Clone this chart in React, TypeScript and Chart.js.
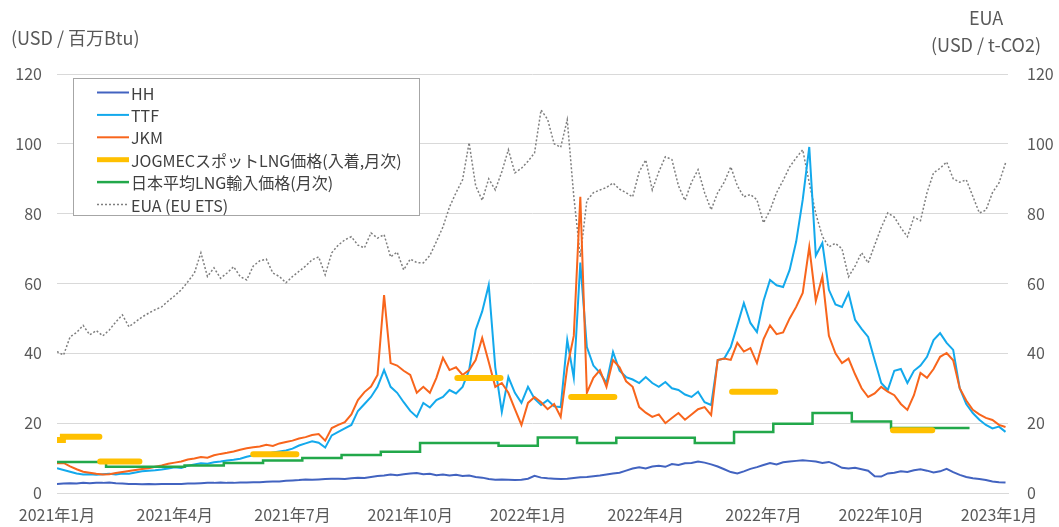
import React, { useEffect, useRef } from 'react';
import { Chart, registerables } from 'chart.js';

Chart.register(...registerables);

// x position of daily-ish samples: months since 2021-01 (1/6 month step)
const STEP = 1 / 6;

const hhValues = [
  2.6, 2.7, 2.8, 2.7, 2.9, 2.8, 2.9,
  2.9, 3.0, 2.8, 2.7, 2.6, 2.6, 2.5, 2.6, 2.5, 2.6, 2.6, 2.6,
  2.6, 2.7, 2.7, 2.8, 2.9, 2.9, 3.0, 2.9, 2.9, 3.0, 3.0, 3.1,
  3.1, 3.2, 3.3, 3.3, 3.5, 3.6, 3.7, 3.9, 3.8, 3.9, 4.0, 4.1,
  4.1, 4.0, 4.2, 4.4, 4.3, 4.6, 4.9, 5.0, 5.3, 5.1, 5.4, 5.6,
  5.7, 5.4, 5.5, 5.1, 5.3, 5.0, 5.2, 4.9, 5.0, 4.6, 4.4, 4.0,
  3.8, 3.9, 3.8, 3.7, 3.8, 4.1, 4.9, 4.4, 4.2, 4.1, 4.0, 4.1,
  4.3, 4.5, 4.6, 4.8, 5.0, 5.3, 5.6, 5.8, 6.4, 7.0, 7.4, 7.0,
  7.6, 7.8, 7.5, 8.3, 8.0, 8.5, 8.6, 9.0, 8.7, 8.2, 7.6, 6.8,
  6.0, 5.6, 6.2, 6.9, 7.4, 8.0, 8.6, 8.2, 8.8, 9.0, 9.2, 9.4,
  9.2, 9.0, 8.6, 8.9, 8.2, 7.2, 7.0, 7.2, 6.8, 6.4, 4.8, 4.7,
  5.6, 5.8, 6.2, 6.0, 6.5, 6.8, 6.4, 5.9, 6.2, 6.9, 6.0, 5.2,
  4.6, 4.2, 4.0, 3.7, 3.3, 3.1, 3.0,
];

const ttfValues = [
  7.1, 6.6, 6.1, 5.6, 5.3, 5.4, 5.2,
  5.4, 5.5, 5.3, 5.6, 5.5, 5.9, 6.2, 6.4, 6.5, 6.7, 7.0, 7.4,
  7.2, 7.8, 8.2, 8.5, 8.4, 8.8, 9.0, 9.3, 9.5, 9.8, 10.4, 10.8,
  11.4, 11.2, 11.6, 11.9, 12.2, 12.7, 13.6, 14.2, 14.8, 14.4, 13.0, 16.5,
  17.5, 18.5, 19.5, 23.5, 25.5, 27.5, 30.4, 35.2, 30.4, 28.7, 26.0, 23.5,
  21.8, 25.8, 24.5, 26.6, 27.5, 29.5, 28.5, 30.4, 35.2, 46.7, 52.0, 59.6,
  36.0, 23.2, 33.2, 28.7, 25.8, 30.4, 27.0, 25.2, 26.6, 24.8, 24.6, 43.8,
  33.0, 66.0, 41.8, 36.5, 34.4, 31.5, 40.4, 35.0, 33.2, 32.5, 31.5, 33.2,
  31.5, 30.4, 31.8, 30.0, 29.5, 28.2, 27.5, 29.0, 26.0, 25.2, 38.1, 38.5,
  41.8, 48.0, 54.4, 48.7, 46.1, 55.0, 61.0, 59.5, 59.0, 63.9, 72.0, 84.0,
  99.1, 68.0, 71.6, 58.2, 54.0, 53.3, 57.3, 49.6, 47.0, 44.7, 38.0, 31.5,
  29.5, 35.0, 35.5, 31.5, 35.0, 36.5, 39.0, 43.8, 45.8, 43.0, 41.0, 30.0,
  25.5, 22.9, 21.0, 19.5, 18.5, 19.0, 17.5,
];

const jkmValues = [
  8.5, 8.6, 7.6, 6.8, 6.1, 5.8, 5.5,
  5.3, 5.4, 5.7, 6.0, 6.3, 6.6, 6.9, 7.1, 7.5, 7.9, 8.4, 8.7,
  9.0, 9.6, 9.9, 10.3, 10.1, 10.8, 11.2, 11.5, 11.9, 12.4, 12.8, 13.1,
  13.3, 13.8, 13.5, 14.2, 14.6, 15.0, 15.6, 16.0, 16.6, 16.9, 15.0, 18.6,
  19.5, 20.3, 22.5, 26.6, 28.9, 30.5, 33.8, 56.7, 37.2, 36.5, 35.0, 33.8,
  28.7, 30.4, 28.7, 33.0, 38.7, 35.2, 36.0, 33.8, 35.2, 38.1, 44.4, 37.5,
  30.4, 31.5, 28.7, 24.0, 19.5, 25.8, 27.5, 26.0, 24.0, 25.5, 21.8, 36.0,
  45.0, 84.8, 28.7, 33.0, 35.2, 30.4, 38.1, 36.0, 32.0, 30.4, 24.6, 23.0,
  21.8, 22.5, 20.0, 21.5, 22.9, 21.0, 22.5, 24.0, 24.6, 22.3, 38.1, 38.5,
  38.1, 43.0, 40.5, 41.5, 37.2, 44.0, 48.0, 45.5, 46.0, 50.0, 53.3, 57.3,
  70.5, 55.0, 62.0, 45.0, 40.0, 37.2, 38.5, 34.0, 30.0, 27.5, 28.5, 30.4,
  29.0, 28.0, 25.5, 23.8, 28.0, 34.4, 33.0, 35.5, 39.0, 40.1, 38.0, 30.0,
  26.5, 23.8, 22.5, 21.5, 20.9, 19.5, 18.9,
];

const euaValues = [
  40.5, 39.5, 44.7, 46.0, 48.0, 45.3, 46.5,
  45.0, 46.7, 49.0, 51.0, 47.6, 49.0, 50.4, 51.5, 52.5, 53.3, 55.0, 56.5,
  58.2, 60.5, 63.0, 68.8, 62.0, 64.5, 61.5, 63.0, 64.8, 62.0, 61.0, 65.0,
  66.5, 67.0, 63.0, 62.0, 60.2, 62.0, 63.5, 65.0, 66.8, 67.6, 62.5, 68.8,
  71.0, 72.5, 73.4, 71.0, 70.2, 74.5, 73.0, 74.0, 67.6, 69.0, 63.9, 67.0,
  66.0, 65.9, 68.0, 72.0, 76.2, 81.9, 86.0, 89.7, 100.3, 88.0, 83.8, 90.0,
  86.8, 92.0, 98.3, 91.7, 93.0, 95.0, 97.4, 109.7, 107.0, 100.0, 99.0, 106.9,
  85.0, 67.6, 83.8, 86.0, 86.8, 87.5, 88.8, 87.0, 86.0, 84.8, 92.0, 95.4,
  86.8, 92.0, 96.3, 95.5, 88.0, 83.8, 89.0, 92.6, 86.0, 81.1, 86.0, 89.0,
  93.4, 88.0, 84.8, 85.5, 84.0, 77.4, 81.0, 86.0, 89.5, 93.4, 96.0, 98.3,
  88.8, 80.0, 73.5, 70.5, 71.5, 70.0, 61.9, 65.0, 68.8, 65.9, 71.0, 76.0,
  80.2, 79.0, 76.0, 73.4, 79.0, 78.0, 86.0, 91.7, 93.0, 94.8, 90.0, 89.0,
  89.7, 85.0, 80.2, 81.0, 86.0, 88.8, 94.5,
];

// Japan average LNG import price, monthly (one value per month)
const japanMonthlyValues = [
  8.9, 7.5, 7.5, 7.9, 8.6, 9.3, 10.0, 10.9, 11.8, 14.3, 14.3, 13.5,
  15.9, 14.3, 15.8, 15.8, 14.3, 17.5, 19.8, 22.9, 20.5, 18.6, 18.6,
];
const japanMonthOffset = 0.25;

// JOGMEC spot LNG price (arrival basis, monthly) segments
const jogmecStart = [0, 0.15, 1.1, 5.0, 10.2, 13.1, 17.2, 21.3];
const jogmecEnd = [0.15, 1.08, 2.1, 6.1, 11.3, 14.2, 18.3, 22.3];
const jogmecValues = [15.2, 16.1, 9.0, 11.1, 32.9, 27.5, 29.0, 18.0];

const seriesLabels = [
  'HH',
  'TTF',
  'JKM',
  'JOGMECスポットLNG価格(入着,月次)',
  '日本平均LNG輸入価格(月次)',
  'EUA (EU ETS)',
];

const xTickMonths = [0, 3, 6, 9, 12, 15, 18, 21, 24];
const xTickLabels = [
  '2021年1月', '2021年4月', '2021年7月', '2021年10月',
  '2022年1月', '2022年4月', '2022年7月', '2022年10月', '2023年1月',
];

const leftAxisTitle = '(USD / 百万Btu)';
const rightAxisTitle1 = 'EUA';
const rightAxisTitle2 = '(USD / t-CO2)';

const COLORS = {
  hh: '#4263C0',
  ttf: '#13A9EC',
  jkm: '#F8651C',
  jogmec: '#FFC000',
  japan: '#22A84A',
  eua: '#7F7F7F',
  text: '#595959',
  grid: '#D9D9D9',
};

const FONT_FAMILY = '"Noto Sans CJK JP", "Noto Sans", sans-serif';

const toXY = (arr: number[]) => arr.map((v, i) => ({ x: i * STEP, y: v }));

const buildJapan = () => {
  const pts: { x: number; y: number }[] = [];
  japanMonthlyValues.forEach((v, k) => {
    const s = k === 0 ? 0 : k + japanMonthOffset;
    const e = k + 1 + japanMonthOffset;
    pts.push({ x: s, y: v });
    pts.push({ x: e, y: v });
  });
  return pts;
};

const buildJogmec = () => {
  const pts: { x: number; y: number | null }[] = [];
  jogmecValues.forEach((v, k) => {
    if (k > 0 && jogmecStart[k] > jogmecEnd[k - 1]) {
      pts.push({ x: (jogmecStart[k] + jogmecEnd[k - 1]) / 2, y: null });
    }
    pts.push({ x: jogmecStart[k], y: v });
    pts.push({ x: jogmecEnd[k], y: v });
  });
  return pts;
};

const legendStyles = [
  { color: COLORS.hh, width: 2, dash: [] as number[] },
  { color: COLORS.ttf, width: 2, dash: [] as number[] },
  { color: COLORS.jkm, width: 2, dash: [] as number[] },
  { color: COLORS.jogmec, width: 5, dash: [] as number[] },
  { color: COLORS.japan, width: 2.5, dash: [] as number[] },
  { color: COLORS.eua, width: 1.5, dash: [2, 2] },
];

const overlayPlugin = {
  id: 'overlay',
  afterDraw(chart: any) {
    const ctx = chart.ctx as CanvasRenderingContext2D;
    ctx.save();
    // axis titles
    ctx.fillStyle = COLORS.text;
    ctx.font = `18px ${FONT_FAMILY}`;
    ctx.textBaseline = 'middle';
    ctx.textAlign = 'left';
    ctx.fillText(leftAxisTitle, 11, 38);
    ctx.textAlign = 'center';
    ctx.fillText(rightAxisTitle1, 986, 18);
    ctx.fillText(rightAxisTitle2, 986, 45);

    // legend
    const bx = 73.5, by = 78.5, bw = 346, bh = 137;
    ctx.fillStyle = '#FFFFFF';
    ctx.fillRect(bx, by, bw, bh);
    ctx.strokeStyle = '#A6A6A6';
    ctx.lineWidth = 1;
    ctx.setLineDash([]);
    ctx.strokeRect(bx, by, bw, bh);
    ctx.textAlign = 'left';
    ctx.font = `16px ${FONT_FAMILY}`;
    seriesLabels.forEach((label, k) => {
      const y = 92.5 + k * 22.4;
      const st = legendStyles[k];
      ctx.beginPath();
      ctx.strokeStyle = st.color;
      ctx.lineWidth = st.width;
      ctx.setLineDash(st.dash);
      ctx.moveTo(97, y);
      ctx.lineTo(129, y);
      ctx.stroke();
      ctx.setLineDash([]);
      ctx.fillStyle = '#404040';
      ctx.fillText(label, 131, y + 1);
    });
    ctx.restore();
  },
};

export default function App() {
  const canvasRef = useRef<HTMLCanvasElement | null>(null);

  useEffect(() => {
    document.body.style.margin = '0';
    const canvas = canvasRef.current;
    if (!canvas) return;

    const lineBase = {
      pointRadius: 0,
      pointHoverRadius: 0,
      tension: 0,
      fill: false,
      spanGaps: false,
    };

    const chart = new Chart(canvas, {
      type: 'line',
      data: {
        datasets: [
          {
            ...lineBase,
            label: seriesLabels[3],
            data: buildJogmec() as any,
            borderColor: COLORS.jogmec,
            borderWidth: 6,
            borderCapStyle: 'round',
            order: 0,
            yAxisID: 'y',
          },
          {
            ...lineBase,
            label: seriesLabels[4],
            data: buildJapan(),
            borderColor: COLORS.japan,
            borderWidth: 2.5,
            order: 1,
            yAxisID: 'y',
          },
          {
            ...lineBase,
            label: seriesLabels[2],
            data: toXY(jkmValues),
            borderColor: COLORS.jkm,
            borderWidth: 2,
            order: 2,
            yAxisID: 'y',
          },
          {
            ...lineBase,
            label: seriesLabels[1],
            data: toXY(ttfValues),
            borderColor: COLORS.ttf,
            borderWidth: 2,
            order: 3,
            yAxisID: 'y',
          },
          {
            ...lineBase,
            label: seriesLabels[0],
            data: toXY(hhValues),
            borderColor: COLORS.hh,
            borderWidth: 2,
            order: 4,
            yAxisID: 'y',
          },
          {
            ...lineBase,
            label: seriesLabels[5],
            data: toXY(euaValues),
            borderColor: COLORS.eua,
            borderWidth: 1.5,
            borderDash: [2, 2],
            order: 5,
            yAxisID: 'y2',
          },
        ],
      },
      options: {
        responsive: false,
        animation: false,
        devicePixelRatio: 1,
        layout: { padding: { top: 74, left: 0, right: 0, bottom: 0 } },
        plugins: {
          legend: { display: false },
          tooltip: { enabled: false },
        },
        scales: {
          x: {
            type: 'linear',
            min: 0,
            max: 24.23,
            afterBuildTicks: (scale: any) => {
              scale.ticks = xTickMonths.map((v) => ({ value: v }));
            },
            afterFit: (scale: any) => {
              scale.height = 34;
            },
            ticks: {
              autoSkip: false,
              maxRotation: 0,
              padding: 12,
              color: COLORS.text,
              font: { family: FONT_FAMILY, size: 16 },
              callback: (value: any) => {
                const idx = xTickMonths.indexOf(Number(value));
                return idx >= 0 ? xTickLabels[idx] : '';
              },
            },
            grid: { drawOnChartArea: false, drawTicks: false, color: COLORS.grid },
            border: { display: true, color: COLORS.grid, width: 1 },
          },
          y: {
            position: 'left',
            min: 0,
            max: 120,
            afterFit: (scale: any) => {
              scale.width = 57;
            },
            ticks: {
              stepSize: 20,
              padding: 15,
              color: COLORS.text,
              font: { family: FONT_FAMILY, size: 16 },
            },
            grid: { color: COLORS.grid, drawTicks: false, lineWidth: 1 },
            border: { display: false },
          },
          y2: {
            position: 'right',
            min: 0,
            max: 120,
            afterFit: (scale: any) => {
              scale.width = 51;
            },
            ticks: {
              stepSize: 20,
              padding: 19,
              color: COLORS.text,
              font: { family: FONT_FAMILY, size: 16 },
            },
            grid: { drawOnChartArea: false, drawTicks: false },
            border: { display: false },
          },
        },
      } as any,
      plugins: [overlayPlugin],
    });

    return () => {
      chart.destroy();
    };
  }, []);

  return (
    <div style={{ width: 1059, height: 527, background: '#FFFFFF' }}>
      <canvas ref={canvasRef} width={1059} height={527} />
    </div>
  );
}
